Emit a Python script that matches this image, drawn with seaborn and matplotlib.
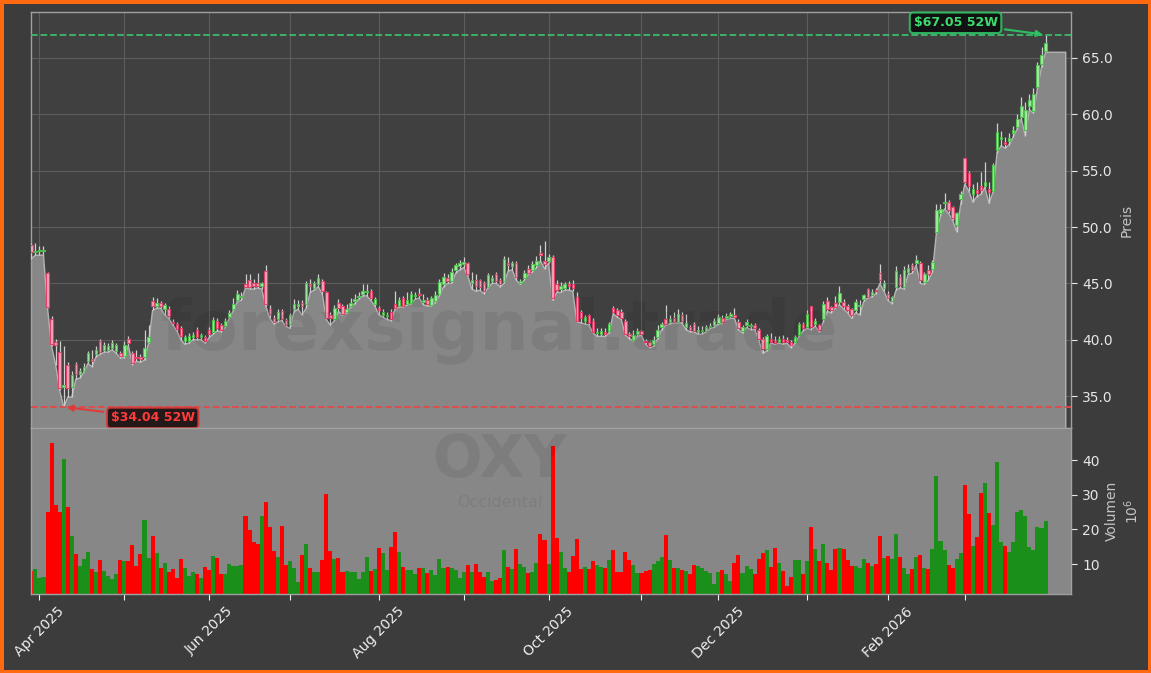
import numpy as np
import pandas as pd
import matplotlib
matplotlib.use("Agg")
import matplotlib.pyplot as plt
from matplotlib.ticker import FormatStrFormatter
import seaborn as sns

# --- daily OHLC (USD) and volume (millions), OXY, 52 weeks ---
opens = [48.4, 47.8, 47.9, 47.9, 45.9, 41.8, 39.8, 38.9, 35.8, 37.8,
         35.8, 37.85, 37.0, 37.2, 38.1, 38.3, 38.7, 39.85, 39.1, 39.1,
         39.3, 39.0, 38.8, 38.6, 40.05, 38.8, 38.5, 38.5, 38.5, 39.8,
         43.4, 43.0, 43.3, 42.7, 42.7, 41.6, 41.4, 41.0, 39.85, 39.85,
         40.2, 40.9, 40.2, 40.2, 40.9, 40.7, 41.7, 41.3, 41.25, 42.05,
         42.75, 43.55, 43.8, 44.9, 45.3, 45.0, 45.0, 44.8, 46.1, 42.7,
         41.9, 41.8, 42.55, 41.75, 41.4, 42.7, 43.0, 43.3, 43.2, 44.9,
         44.6, 44.9, 45.2, 44.2, 42.2, 41.85, 43.3, 43.0, 42.5, 43.0,
         43.4, 43.8, 44.1, 44.2, 44.3, 43.2, 42.85, 42.2, 42.1, 42.5,
         43.2, 43.0, 43.7, 43.2, 43.3, 43.9, 44.1, 43.35, 43.5, 43.1,
         43.4, 44.1, 44.9, 45.5, 45.2, 46.2, 46.5, 46.7, 46.8, 45.0,
         45.3, 45.3, 45.0, 44.7, 45.2, 45.8, 45.3, 45.2, 46.85, 46.5,
         46.8, 45.0, 45.5, 46.3, 46.2, 46.6, 47.7, 47.0, 47.0, 47.3,
         44.9, 44.5, 44.6, 44.9, 44.9, 43.8, 42.5, 41.7, 42.2, 41.7,
         40.6, 40.5, 40.7, 40.8, 42.8, 42.6, 42.5, 41.7, 40.5, 40.0,
         40.5, 40.75, 39.9, 39.8, 39.6, 40.2, 41.1, 41.8, 41.6, 41.9,
         41.6, 42.2, 41.1, 41.1, 41.4, 40.7, 40.8, 40.8, 41.1, 41.3,
         41.5, 41.9, 41.9, 42.1, 42.2, 41.6, 40.8, 41.3, 41.2, 41.3,
         40.9, 40.1, 39.2, 40.1, 39.9, 39.8, 40.1, 40.0, 39.8, 39.8,
         40.4, 41.4, 41.1, 43.0, 41.4, 41.3, 41.8, 43.45, 42.9, 43.3,
         43.35, 43.35, 42.95, 42.7, 42.6, 43.0, 43.65, 44.5, 44.0, 44.4,
         45.9, 44.6, 44.1, 43.4, 44.7, 45.6, 44.7, 46.0, 46.6, 46.8,
         46.8, 45.1, 46.2, 46.3, 49.55, 51.2, 52.1, 52.2, 51.8, 50.2,
         52.45, 56.1, 54.8, 52.9, 53.3, 53.6, 53.6, 53.4, 53.2, 56.8,
         57.8, 57.5, 57.6, 58.3, 58.9, 59.8, 58.6, 60.7, 60.3, 62.4,
         64.5, 65.6]
highs = [48.6, 48.6, 48.3, 48.3, 46.0, 42.1, 40.1, 39.9, 39.4, 38.0,
         37.2, 38.0, 37.5, 37.9, 39.0, 39.1, 39.4, 40.1, 39.8, 39.7,
         40.0, 39.7, 39.0, 39.9, 40.3, 39.0, 39.1, 38.7, 40.9, 41.3,
         43.8, 43.7, 43.4, 43.3, 43.0, 41.8, 41.6, 41.2, 40.4, 40.6,
         40.7, 41.1, 40.6, 40.4, 41.1, 42.0, 41.9, 41.5, 41.9, 42.6,
         43.7, 44.4, 44.2, 45.8, 45.8, 45.4, 45.9, 45.1, 46.6, 43.1,
         42.2, 42.7, 42.7, 41.9, 42.4, 43.6, 43.5, 43.5, 45.2, 45.4,
         45.2, 45.8, 45.4, 44.3, 42.5, 43.1, 43.6, 43.2, 43.2, 43.7,
         44.1, 44.2, 44.9, 44.9, 44.5, 43.8, 43.0, 42.7, 42.5, 42.7,
         44.3, 43.8, 43.9, 44.2, 44.3, 44.2, 44.6, 44.1, 43.8, 43.9,
         44.3, 45.4, 45.9, 45.8, 46.4, 46.8, 47.1, 47.3, 46.9, 46.0,
         45.8, 45.4, 45.2, 45.9, 45.7, 46.0, 45.5, 47.4, 47.3, 47.0,
         47.0, 45.4, 46.2, 46.6, 47.0, 47.4, 48.4, 48.8, 47.6, 47.5,
         45.3, 45.1, 45.1, 45.2, 45.3, 44.2, 42.6, 42.2, 42.3, 41.9,
         41.0, 41.0, 41.0, 41.6, 43.0, 42.8, 42.7, 41.8, 40.7, 40.9,
         41.0, 40.9, 40.1, 39.9, 40.3, 41.3, 41.6, 43.1, 42.2, 42.5,
         42.7, 42.5, 42.3, 41.3, 41.6, 41.2, 41.2, 41.3, 41.5, 41.9,
         42.3, 42.2, 42.4, 42.5, 42.8, 41.8, 41.3, 41.8, 41.5, 41.5,
         41.0, 40.2, 40.5, 40.6, 40.3, 40.3, 40.4, 40.2, 40.0, 40.4,
         41.6, 41.6, 42.6, 43.0, 41.9, 41.4, 43.4, 43.8, 43.0, 43.9,
         44.8, 43.6, 43.2, 42.8, 43.6, 43.5, 44.1, 44.6, 44.5, 44.6,
         46.7, 45.3, 44.3, 43.9, 46.5, 45.8, 46.5, 46.7, 46.8, 47.5,
         47.0, 46.0, 46.6, 47.1, 52.0, 52.0, 53.0, 52.4, 51.9, 51.3,
         53.2, 56.1, 55.0, 53.8, 54.0, 54.9, 55.8, 54.0, 55.7, 59.2,
         58.5, 58.0, 58.3, 59.0, 60.0, 61.5, 61.1, 61.8, 62.3, 64.6,
         66.0, 67.05]
lows = [47.2, 47.5, 47.5, 47.5, 42.8, 39.4, 37.8, 35.5, 34.04, 34.9,
        34.9, 36.5, 36.6, 37.1, 37.9, 37.6, 38.5, 38.7, 38.9, 38.9,
        39.1, 38.8, 38.4, 38.4, 39.5, 37.8, 38.1, 38.0, 38.2, 39.7,
        42.6, 42.8, 42.8, 42.2, 41.9, 41.3, 40.8, 40.0, 39.6, 39.7,
        40.0, 40.0, 40.0, 39.7, 40.2, 40.5, 40.8, 40.7, 41.1, 41.9,
        42.6, 43.4, 43.5, 44.6, 44.5, 44.5, 44.6, 44.5, 43.0, 41.9,
        41.4, 41.6, 41.7, 41.2, 41.0, 42.5, 42.7, 42.2, 42.8, 44.2,
        44.4, 44.7, 44.1, 41.8, 41.3, 41.7, 42.5, 42.2, 42.4, 42.9,
        43.2, 43.6, 43.9, 43.9, 43.5, 43.0, 42.2, 42.0, 41.8, 41.7,
        42.7, 42.9, 42.9, 43.1, 43.2, 43.6, 43.7, 43.1, 43.0, 43.0,
        43.3, 43.9, 44.7, 45.0, 45.0, 45.9, 46.2, 46.4, 45.7, 44.5,
        44.3, 44.4, 44.1, 44.6, 45.0, 45.0, 44.7, 45.0, 46.1, 46.2,
        45.3, 44.9, 45.3, 45.8, 46.0, 46.4, 47.0, 46.3, 46.8, 43.5,
        44.2, 44.2, 44.4, 44.4, 44.3, 41.6, 41.5, 41.4, 41.3, 40.6,
        40.3, 40.3, 40.3, 40.6, 42.3, 42.0, 41.8, 40.4, 40.1, 39.9,
        40.3, 40.4, 39.6, 39.3, 39.4, 40.1, 40.9, 41.3, 41.4, 41.5,
        41.5, 41.5, 40.9, 40.7, 40.7, 40.5, 40.5, 40.7, 41.0, 41.1,
        41.4, 41.5, 41.8, 41.9, 41.9, 40.9, 40.6, 41.1, 40.9, 40.9,
        40.0, 38.8, 39.0, 39.7, 39.6, 39.7, 39.6, 39.7, 39.3, 39.7,
        40.3, 40.8, 41.0, 40.9, 41.2, 40.7, 41.6, 42.5, 42.4, 42.8,
        43.1, 42.7, 42.4, 41.9, 42.4, 42.2, 43.4, 43.7, 43.8, 44.1,
        45.0, 44.3, 43.5, 43.2, 44.4, 44.6, 44.5, 45.8, 45.9, 46.6,
        45.0, 44.9, 45.3, 46.0, 49.5, 51.0, 51.6, 51.2, 50.6, 49.6,
        52.0, 53.8, 53.2, 52.2, 52.7, 52.9, 53.5, 52.1, 53.1, 56.6,
        57.2, 57.0, 57.3, 58.0, 58.7, 59.6, 58.1, 60.4, 60.1, 62.3,
        64.2, 65.5]
closes = [47.8, 47.9, 48.0, 48.0, 42.9, 39.6, 39.5, 35.7, 36.0, 35.7,
          36.9, 37.0, 37.2, 37.6, 38.8, 38.1, 39.1, 38.95, 39.5, 39.45,
          39.7, 39.5, 38.6, 39.55, 39.75, 37.9, 38.4, 38.3, 39.3, 40.2,
          43.0, 43.3, 43.0, 43.1, 42.1, 41.45, 40.95, 40.3, 40.2, 40.35,
          40.4, 40.2, 40.4, 39.85, 40.5, 41.75, 41.0, 40.9, 41.7, 42.35,
          43.15, 44.1, 43.9, 44.7, 44.7, 44.8, 44.8, 45.0, 43.2, 42.3,
          41.6, 42.5, 41.85, 41.3, 42.2, 43.2, 43.2, 43.0, 45.0, 44.8,
          45.0, 45.5, 44.3, 41.95, 41.95, 42.85, 42.85, 42.3, 42.7, 43.3,
          43.6, 43.9, 44.3, 44.3, 43.7, 43.6, 42.6, 42.5, 42.2, 41.8,
          42.8, 43.5, 43.0, 43.5, 44.05, 44.0, 44.0, 43.5, 43.2, 43.7,
          44.0, 45.1, 45.6, 45.2, 46.0, 46.6, 46.8, 46.9, 45.8, 45.3,
          44.8, 44.7, 44.3, 45.75, 45.5, 45.2, 44.9, 47.2, 46.6, 46.85,
          45.6, 45.2, 45.9, 45.9, 46.7, 47.0, 47.5, 46.7, 47.3, 43.7,
          44.4, 44.8, 44.9, 44.8, 44.6, 41.7, 41.9, 42.0, 41.5, 40.7,
          40.7, 40.8, 40.5, 41.4, 42.5, 42.2, 41.9, 40.5, 40.3, 40.4,
          40.8, 40.55, 39.8, 39.4, 40.0, 40.9, 41.4, 41.4, 41.8, 41.6,
          42.3, 41.7, 41.5, 40.9, 40.8, 40.9, 40.9, 41.1, 41.2, 41.7,
          42.0, 41.6, 42.1, 42.3, 42.0, 41.0, 41.1, 41.6, 41.3, 41.0,
          40.1, 39.2, 40.3, 39.8, 39.7, 40.1, 39.8, 39.8, 39.5, 40.2,
          41.4, 41.0, 42.3, 41.1, 41.7, 40.9, 43.2, 42.75, 42.6, 42.9,
          44.15, 42.95, 42.6, 42.2, 43.35, 43.1, 43.95, 43.8, 44.2, 44.3,
          45.3, 45.0, 43.7, 43.8, 46.1, 44.85, 46.2, 46.4, 46.2, 47.1,
          45.3, 45.85, 45.8, 46.9, 51.5, 51.6, 52.25, 51.5, 50.8, 51.2,
          52.9, 54.0, 53.6, 53.4, 53.0, 53.3, 54.0, 53.1, 55.5, 58.4,
          57.95, 57.35, 57.9, 58.6, 59.6, 60.7, 60.4, 61.3, 61.8, 64.35,
          65.3, 66.3]
volume = [8.0, 8.55, 5.94, 6.2, 25.0, 45.1, 27.06, 25.0, 40.4, 26.5,
          18.1, 12.9, 9.4, 11.4, 13.5, 8.55, 7.7, 11.15, 8.0, 6.5,
          5.65, 7.1, 11.15, 10.9, 10.9, 15.5, 9.4, 12.9, 22.7, 11.7,
          18.1, 13.2, 8.8, 10.3, 7.7, 8.55, 5.94, 11.4, 8.8, 6.5,
          7.7, 7.1, 5.94, 9.1, 8.25, 12.3, 11.7, 7.1, 7.1, 10.0,
          9.4, 9.4, 9.7, 23.9, 19.8, 16.3, 15.8, 23.9, 27.9, 20.7,
          13.75, 12.0, 21.0, 9.7, 10.9, 8.8, 4.8, 12.6, 15.8, 8.8,
          7.7, 7.7, 11.15, 30.2, 13.75, 11.4, 11.7, 7.7, 8.0, 7.7,
          7.7, 5.65, 7.7, 12.0, 8.0, 8.55, 14.6, 13.2, 8.25, 14.9,
          19.25, 13.5, 9.1, 8.25, 8.25, 7.1, 8.8, 8.8, 7.4, 8.25,
          6.8, 11.4, 8.8, 9.1, 8.8, 8.25, 5.94, 7.7, 9.7, 7.7,
          10.0, 7.7, 6.2, 7.7, 5.1, 5.4, 5.94, 14.05, 9.1, 8.55,
          14.3, 10.0, 9.1, 7.4, 7.7, 10.3, 18.7, 16.9, 10.0, 44.1,
          17.5, 13.5, 8.8, 7.7, 12.3, 17.2, 8.55, 9.1, 8.55, 10.9,
          9.7, 9.1, 8.8, 11.15, 14.05, 7.7, 7.7, 13.5, 11.15, 9.7,
          7.4, 7.4, 8.0, 8.25, 10.0, 10.9, 12.0, 18.4, 11.15, 8.8,
          8.8, 8.25, 8.0, 7.1, 9.7, 9.4, 8.8, 8.0, 7.4, 4.2,
          7.7, 8.25, 7.1, 5.1, 10.3, 12.6, 7.4, 9.4, 8.55, 7.1,
          11.4, 13.2, 14.05, 9.1, 14.6, 10.3, 8.0, 3.6, 6.2, 11.15,
          11.15, 7.1, 10.9, 20.7, 14.3, 10.9, 15.8, 10.3, 8.25, 14.3,
          14.6, 14.3, 11.15, 9.4, 9.4, 8.8, 11.4, 10.3, 9.4, 10.0,
          18.1, 11.7, 12.3, 11.4, 18.7, 12.0, 8.8, 7.1, 8.55, 12.0,
          12.6, 8.8, 8.55, 14.3, 35.45, 16.65, 14.05, 9.7, 8.8, 11.4,
          13.2, 32.85, 24.45, 15.2, 17.8, 30.5, 33.4, 24.75, 21.3, 39.5,
          16.35, 15.2, 13.5, 16.35, 25.0, 25.6, 23.9, 14.9, 14.05, 20.7,
          20.4, 22.4]

start_day = "2025-03-28"
market_holidays = ["2025-04-18", "2025-05-26", "2025-06-19", "2025-07-04",
                   "2025-09-01", "2025-11-27", "2025-12-25", "2026-01-01",
                   "2026-01-19", "2026-02-16"]

o = np.array(opens)
h = np.array(highs)
l = np.array(lows)
c = np.array(closes)
n = len(c)
idx = np.arange(n)
up = c >= o

# trading-day index axis, ticks on the first session of every month
dates = pd.bdate_range(start_day, periods=n, freq="C", holidays=market_holidays)
new_month = np.r_[False, dates.month[1:] != dates.month[:-1]]
month_pos = idx[new_month]
month_lbl = [d.strftime("%b %Y") if d.month % 2 == 0 else "" for d in dates[new_month]]

# --- style ---
sns.set_theme(style="dark", rc={
    "figure.facecolor": "#3c3c3c",
    "axes.facecolor": "#404040",
    "axes.edgecolor": "#9a9a9a",
    "text.color": "#e6e6e6",
    "xtick.color": "#e6e6e6",
    "ytick.color": "#e6e6e6",
})
plt.rcParams["font.family"] = ["DejaVu Sans"]

fig = plt.figure(figsize=(11.51, 6.73), dpi=100)
fig.patch.set_edgecolor("#ff6a10")
fig.patch.set_linewidth(5)
ax = fig.add_axes([0.0269, 0.364, 0.9036, 0.618])
axv = fig.add_axes([0.0269, 0.1174, 0.9036, 0.2467])

# price panel: lows as grey area, candles on top
x_fill = np.r_[idx, idx[-1] + 5]
y_fill = np.r_[l, l[-1]]
ax.fill_between(x_fill, y_fill, 0, facecolor="#878787", edgecolor="#b4b4b4",
                linewidth=1, zorder=2)
ax.vlines(idx, l, h, color="#cfcfcf", linewidth=0.9, zorder=3)
ax.bar(idx, np.maximum(np.abs(c - o), 0.05), bottom=np.minimum(o, c), width=0.62,
       color=np.where(up, "#a8e6a8", "#f2a6b8"),
       edgecolor=np.where(up, "#4fc04f", "#e3406a"), linewidth=0.8, zorder=4)

hi_i, lo_i = int(np.argmax(h)), int(np.argmin(l))
ax.axhline(h[hi_i], color="#3dba6a", linestyle="--", linewidth=1.3, zorder=5)
ax.axhline(l[lo_i], color="#e04a4a", linestyle="--", linewidth=1.3, zorder=5)
ax.annotate(f"\\${h[hi_i]:.2f} 52W", xy=(hi_i, h[hi_i]), xytext=(-90, 12),
            textcoords="offset pixels", ha="center", va="center",
            color="#3ddc6e", fontsize=9, fontweight="bold", zorder=7,
            bbox=dict(boxstyle="round,pad=0.3", fc="#0c0c0c", ec="#2fbf63", lw=1.5, alpha=0.9),
            arrowprops=dict(arrowstyle="-|>", color="#2fbf63", lw=1.5))
ax.annotate(f"\\${l[lo_i]:.2f} 52W", xy=(lo_i, l[lo_i]), xytext=(89, -11),
            textcoords="offset pixels", ha="center", va="center",
            color="#ff3b3b", fontsize=9, fontweight="bold", zorder=7,
            bbox=dict(boxstyle="round,pad=0.3", fc="#1a0c0c", ec="#d93a3a", lw=1.5, alpha=0.9),
            arrowprops=dict(arrowstyle="-|>", color="#e03a3a", lw=1.5))

ax.set_xlim(-0.1, n + 5.3)
ax.set_ylim(l.min() * 0.945, h.max() * 1.03)
ax.set_xticks(month_pos)
ax.set_yticks(np.arange(35, 70, 5))
ax.yaxis.set_major_formatter(FormatStrFormatter("%.1f"))
ax.yaxis.tick_right()
ax.yaxis.set_label_position("right")
ax.tick_params(axis="x", bottom=False, labelbottom=False)
ax.tick_params(axis="y", right=True, length=4, width=0.8, labelsize=10, pad=4)
ax.grid(True, color="#5d5d5d", linewidth=0.8)
ax.set_axisbelow(True)
ax.set_ylabel("Preis", color="#c4c4c4", fontsize=10, labelpad=5)

# volume panel
direction = np.where(up, "up", "down")
sns.barplot(x=idx, y=volume, hue=direction, palette={"up": "#1a8f1a", "down": "#ff0000"},
            native_scale=True, dodge=False, width=1.0, saturation=1, errorbar=None,
            legend=False, linewidth=0, ax=axv)
axv.set_facecolor("#878787")
axv.set_xlim(-0.1, n + 5.3)
axv.set_ylim(1.35, 49.3)
axv.set_xticks(month_pos)
axv.set_xticklabels(month_lbl, rotation=45, fontsize=10)
axv.set_yticks([10, 20, 30, 40])
axv.yaxis.tick_right()
axv.yaxis.set_label_position("right")
axv.tick_params(axis="x", bottom=True, length=4, width=0.8, colors="#f0f0f0")
axv.tick_params(axis="y", right=True, length=4, width=0.8, labelsize=10, pad=4)
axv.set_xlabel("")
axv.set_ylabel("Volumen\n$10^6$", color="#c4c4c4", fontsize=10, labelpad=4)
axv.grid(False)

for a in (ax, axv):
    for s in a.spines.values():
        s.set_color("#a0a0a0")
        s.set_linewidth(1)

# watermark
fig.text(0.434, 0.48, "forexsignal.trade", fontsize=50, fontweight="bold",
         color="black", alpha=0.07, ha="center", va="baseline")
fig.text(0.434, 0.291, "OXY", fontsize=42, fontweight="bold",
         color="black", alpha=0.07, ha="center", va="baseline")
fig.text(0.434, 0.247, "Occidental", fontsize=11.5,
         color="black", alpha=0.07, ha="center", va="baseline")

fig.savefig("out.png", dpi=100, facecolor=fig.get_facecolor(),
            edgecolor=fig.get_edgecolor())
